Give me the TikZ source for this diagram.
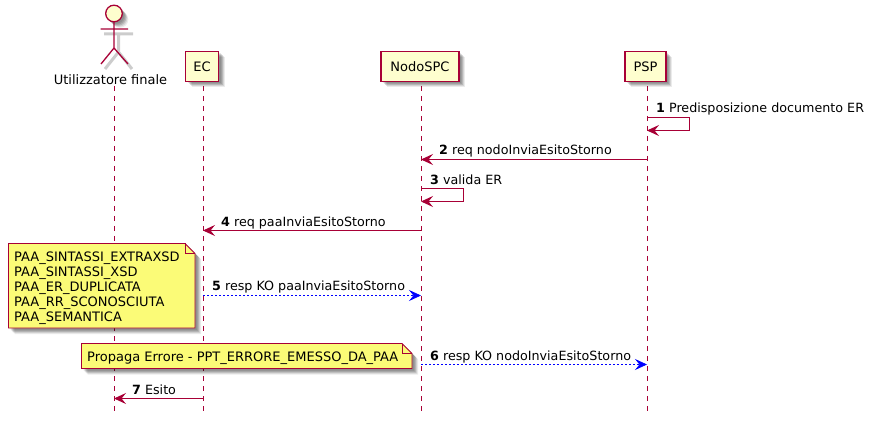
\documentclass[tikz,border=0pt]{standalone}
\usepackage{fontspec}
\setmainfont{DejaVu Sans}
\usetikzlibrary{arrows.meta,shadows}

\definecolor{umlred}{HTML}{A80036}
\definecolor{umlbox}{HTML}{FEFECE}
\definecolor{umlnote}{HTML}{FBFB77}

\tikzset{
softshadow/.style={
 drop shadow={shadow xshift=2pt,shadow yshift=-2pt,fill=black,opacity=.10},
 drop shadow={shadow xshift=3pt,shadow yshift=-3pt,fill=black,opacity=.12},
 drop shadow={shadow xshift=4pt,shadow yshift=-4pt,fill=black,opacity=.14},
 drop shadow={shadow xshift=5pt,shadow yshift=-5pt,fill=black,opacity=.10},
 drop shadow={shadow xshift=6pt,shadow yshift=-6pt,fill=black,opacity=.08}},
participant/.style={draw=umlred,fill=umlbox,line width=1.1pt,inner sep=0pt,
 minimum height=30pt,softshadow},
lifeline/.style={draw=umlred,line width=.8pt,dash pattern=on 5pt off 5pt,dash phase=5pt},
msgline/.style={draw=umlred,line width=1pt,-{Stealth[length=12pt,width=11pt,inset=4.5pt]}},
respline/.style={draw=blue,line width=.8pt,dash pattern=on 2pt off 2pt,
 -{Stealth[length=12pt,width=11pt,inset=4.5pt,fill=blue]}},
msglabel/.style={anchor=base west,inner sep=0pt,font=\fontsize{12.7}{15}\selectfont},
notebox/.style={draw=umlred,fill=umlnote,line width=.8pt,line join=miter,softshadow},
notefold/.style={draw=umlred,line width=.8pt},
actorline/.style={draw=umlred,line width=1.3pt}
}

\begin{document}
\begin{tikzpicture}[x=1pt,y=-1pt,font=\fontsize{13}{15}\selectfont]
\useasboundingbox (0,0) rectangle (874,427);

%%%%%%%%%%%%%%%%%%%%%%%%%%%%
% lifelines
\coordinate (actorTop) at (114,81);
\coordinate (actorEnd) at (114,411);
\coordinate (ecTop) at (203,81);
\coordinate (ecEnd) at (203,411);
\coordinate (nodoTop) at (421,81);
\coordinate (nodoEnd) at (421,411);
\coordinate (pspTop) at (647,81);
\coordinate (pspEnd) at (647,411);

\draw[lifeline] (actorTop) -- (actorEnd);
\draw[lifeline] (ecTop) -- (ecEnd);
\draw[lifeline] (nodoTop) -- (nodoEnd);
\draw[lifeline] (pspTop) -- (pspEnd);

%%%%%%%%%%%%%%%%%%%%%%%%%%%%
% participants
\node[participant,minimum width=33pt] (ec) at (202,66.3) {EC};
\node[participant,minimum width=78pt] (nodo) at (420,66.3) {NodoSPC};
\node[participant,minimum width=41pt] (psp) at (645.5,66.3) {PSP};

% actor
\draw[draw=black!20,line width=3pt] (104,34) -- (133,34)
(118.5,34) -- (118.5,52) -- (105,69) (118.5,52) -- (132,69);
\draw[actorline,fill=umlbox,softshadow] (114,13.5) circle (8.3);
\draw[actorline] (114,22) -- (114,48) (100.5,29) -- (128,29)
(101,64) -- (114,48) -- (128,64);
\node[anchor=base,inner sep=0pt] (actorName) at (110.5,84.5) {Utilizzatore finale};

%%%%%%%%%%%%%%%%%%%%%%%%%%%%
% messages
\coordinate (m1a) at (647,117.5);
\coordinate (m1b) at (689,130.5);
\coordinate (m1c) at (647,130.5);
\draw[msgline] (m1a) -| (m1b) -- (m1c);
\node[msglabel] (lab1) at (656,112.8) {\textbf{1} Predisposizione documento ER};

\coordinate (m2a) at (647,159.5);
\coordinate (m2b) at (421,159.5);
\draw[msgline] (m2a) -- (m2b);
\node[msglabel] (lab2) at (439,154.8) {\textbf{2} req nodoInviaEsitoStorno};

\coordinate (m3a) at (421,188.5);
\coordinate (m3b) at (463,201.5);
\coordinate (m3c) at (421,201.5);
\draw[msgline] (m3a) -| (m3b) -- (m3c);
\node[msglabel] (lab3) at (430,184.8) {\textbf{3} valida ER};

\coordinate (m4a) at (421,230.5);
\coordinate (m4b) at (203,230.5);
\draw[msgline] (m4a) -- (m4b);
\node[msglabel] (lab4) at (221,226.8) {\textbf{4} req paaInviaEsitoStorno};

\coordinate (m5a) at (203,295.5);
\coordinate (m5b) at (421,295.5);
\draw[respline] (m5a) -- (m5b);
\node[msglabel] (lab5) at (212,290.8) {\textbf{5} resp KO paaInviaEsitoStorno};

\coordinate (m6a) at (421,364.5);
\coordinate (m6b) at (647,364.5);
\draw[respline] (m6a) -- (m6b);
\node[msglabel] (lab6) at (430,360.8) {\textbf{6} resp KO nodoInviaEsitoStorno};

\coordinate (m7a) at (203,398.5);
\coordinate (m7b) at (114,398.5);
\draw[msgline] (m7a) -- (m7b);
\node[msglabel] (lab7) at (132,394.8) {\textbf{7} Esito};

%%%%%%%%%%%%%%%%%%%%%%%%%%%%
% notes
\draw[notebox] (8.5,243.5) -- (185,243.5) -- (195,253.5) -- (195,328) -- (8.5,328) -- cycle;
\draw[notefold] (185,243.5) -- (185,253.5) -- (195,253.5);
\node[anchor=north west,align=left,inner sep=0pt] (note1) at (14,251.5)
{PAA\_SINTASSI\_EXTRAXSD\\PAA\_SINTASSI\_XSD\\PAA\_ER\_DUPLICATA\\PAA\_RR\_SCONOSCIUTA\\PAA\_SEMANTICA};

\draw[notebox] (81.5,343.5) -- (402,343.5) -- (412,353.5) -- (412,368.5) -- (81.5,368.5) -- cycle;
\draw[notefold] (402,343.5) -- (402,353.5) -- (412,353.5);
\node[anchor=base west,inner sep=0pt] (note2) at (87,361.5) {Propaga Errore - PPT\_ERRORE\_EMESSO\_DA\_PAA};
\end{tikzpicture}
\end{document}
